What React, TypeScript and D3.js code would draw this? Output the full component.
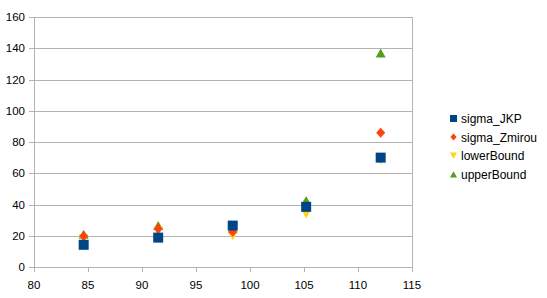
import React, { useRef, useEffect } from "react";
import * as d3 from "d3";

const xValues = [84.6, 91.5, 98.4, 105.2, 112.1];
const sigmaJKP = [14.2, 18.8, 26.5, 38.5, 70.0];
const sigmaZmirou = [19.8, 24.5, 22.5, 38.5, 86.0];
const lowerBound = [18.0, 23.0, 20.0, 34.0, 68.5];
const upperBound = [21.0, 26.5, 24.5, 42.5, 137.0];

const seriesNames = ["sigma_JKP", "sigma_Zmirou", "lowerBound", "upperBound"];
const seriesColors = ["#004586", "#ff420e", "#ffd320", "#579d1c"];
const seriesShapes = ["square", "diamond", "down", "up"];
const seriesValues = [sigmaJKP, sigmaZmirou, lowerBound, upperBound];

const xTicks = [80, 85, 90, 95, 100, 105, 110, 115];
const yTicks = [0, 20, 40, 60, 80, 100, 120, 140, 160];

function markerPath(shape: string, s: number) {
  const h = s / 2;
  if (shape === "square") return `M${-h},${-h}H${h}V${h}H${-h}Z`;
  if (shape === "diamond") return `M0,${-h}L${h * 0.9},0L0,${h}L${-h * 0.9},0Z`;
  if (shape === "down") return `M${-h},${-h * 0.9}H${h}L0,${h * 0.9}Z`;
  return `M0,${-h * 0.9}L${h},${h * 0.9}H${-h}Z`;
}

function App() {
  const svgRef = useRef<SVGSVGElement>(null);

  useEffect(() => {
    const width = 547;
    const height = 298;
    const svg = d3.select(svgRef.current);
    svg.selectAll("*").remove();
    svg.attr("width", width).attr("height", height);

    const x = d3.scaleLinear().domain([80, 115]).range([34, 412]);
    const y = d3.scaleLinear().domain([0, 160]).range([267, 17]);
    const grid = "#b3b3b3";
    const font = "'Liberation Sans', Arial, sans-serif";

    svg.append("rect").attr("width", width).attr("height", height).attr("fill", "#fff");

    // horizontal gridlines
    svg.append("g")
      .selectAll("line")
      .data(yTicks)
      .enter()
      .append("line")
      .attr("x1", 29)
      .attr("x2", 412)
      .attr("y1", (d) => Math.round(y(d)) + 0.5)
      .attr("y2", (d) => Math.round(y(d)) + 0.5)
      .attr("stroke", grid);

    // left axis + right border
    [34, 412].forEach((px) => {
      svg.append("line")
        .attr("x1", px + 0.5).attr("x2", px + 0.5)
        .attr("y1", y(160)).attr("y2", y(0) + 5)
        .attr("stroke", grid);
    });

    // x ticks
    svg.append("g")
      .selectAll("line")
      .data(xTicks)
      .enter()
      .append("line")
      .attr("x1", (d) => Math.round(x(d)) + 0.5)
      .attr("x2", (d) => Math.round(x(d)) + 0.5)
      .attr("y1", y(0))
      .attr("y2", y(0) + 5)
      .attr("stroke", grid);

    svg.append("g")
      .selectAll("text")
      .data(yTicks)
      .enter()
      .append("text")
      .attr("x", 25)
      .attr("y", (d) => y(d) + 4)
      .attr("text-anchor", "end")
      .style("font-family", font)
      .style("font-size", "11.5px")
      .text((d) => d);

    svg.append("g")
      .selectAll("text")
      .data(xTicks)
      .enter()
      .append("text")
      .attr("x", (d) => x(d))
      .attr("y", 289)
      .attr("text-anchor", "middle")
      .style("font-family", font)
      .style("font-size", "11.5px")
      .text((d) => d);

    // draw last series first so sigma_JKP ends up on top
    for (let i = seriesNames.length - 1; i >= 0; i--) {
      svg.append("g")
        .selectAll("path")
        .data(seriesValues[i])
        .enter()
        .append("path")
        .attr("transform", (d, j) => `translate(${x(xValues[j])},${y(d)})`)
        .attr("d", markerPath(seriesShapes[i], 10))
        .attr("fill", seriesColors[i]);
    }

    // legend
    const legend = svg.append("g");
    seriesNames.forEach((name, i) => {
      const cy = 118.5 + i * 18.6;
      legend.append("path")
        .attr("transform", `translate(453.5,${cy})`)
        .attr("d", markerPath(seriesShapes[i], 7))
        .attr("fill", seriesColors[i]);
      legend.append("text")
        .attr("x", 461)
        .attr("y", cy + 4.5)
        .style("font-family", font)
        .style("font-size", "12px")
        .text(name);
    });
  }, []);

  return (
    <svg ref={svgRef} style={{ position: "absolute", left: 0, top: 0 }}></svg>
  );
}

export default App;
